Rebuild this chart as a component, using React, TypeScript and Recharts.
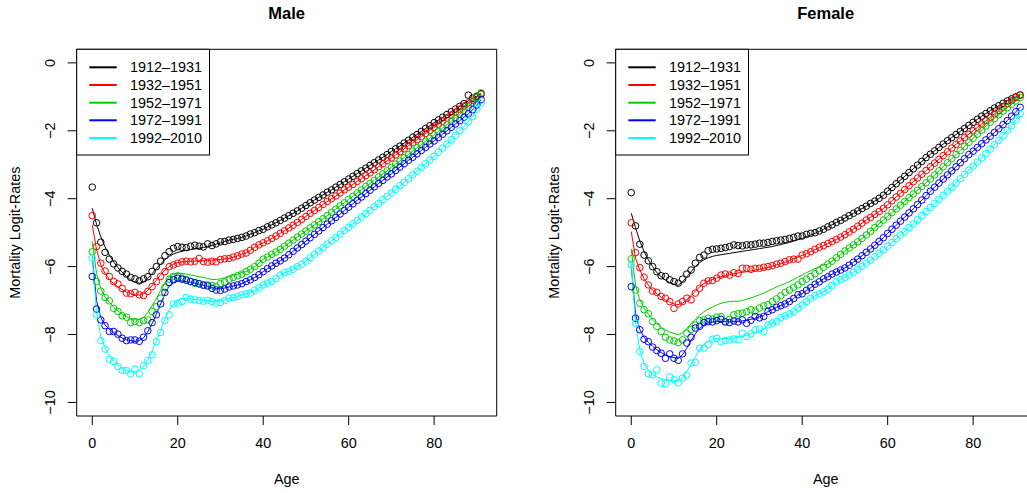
import { ComposedChart, Line, XAxis, YAxis, ReferenceArea } from "recharts";

const FONT = '"Liberation Sans", Arial, Helvetica, sans-serif';

const AGES = [
  0, 1, 2, 3, 4, 5, 6, 7, 8, 9, 10, 11, 12, 13, 14, 15, 16, 17, 18, 19, 20, 21, 22, 23,
  24, 25, 26, 27, 28, 29, 30, 31, 32, 33, 34, 35, 36, 37, 38, 39, 40, 41, 42, 43, 44, 45,
  46, 47, 48, 49, 50, 51, 52, 53, 54, 55, 56, 57, 58, 59, 60, 61, 62, 63, 64, 65, 66, 67,
  68, 69, 70, 71, 72, 73, 74, 75, 76, 77, 78, 79, 80, 81, 82, 83, 84, 85, 86, 87, 88, 89,
  90, 91,
];

const PERIODS = ["1912\u20131931", "1932\u20131951", "1952\u20131971", "1972\u20131991", "1992\u20132010"];
const COLORS = ["#000000", "#FF0000", "#00CD00", "#0000FF", "#00FFFF"];

const X_TICKS = [0, 20, 40, 60, 80];
const Y_TICKS = [-10, -8, -6, -4, -2, 0];

// ---- Male, observed logit rates (circles) ----
const mBlackObs = [
  -3.66, -4.71, -5.28, -5.58, -5.78, -5.92, -6.04, -6.14, -6.22, -6.32,
  -6.36, -6.42, -6.36, -6.3, -6.14, -6.0, -5.84, -5.68, -5.56, -5.46,
  -5.41, -5.43, -5.44, -5.4, -5.37, -5.4, -5.42, -5.33, -5.38, -5.33,
  -5.27, -5.26, -5.22, -5.2, -5.17, -5.14, -5.1, -5.04, -5.0, -4.94,
  -4.9, -4.83, -4.77, -4.71, -4.64, -4.57, -4.5, -4.43, -4.36, -4.28,
  -4.2, -4.12, -4.04, -3.96, -3.89, -3.81, -3.74, -3.66, -3.58, -3.5,
  -3.42, -3.34, -3.26, -3.18, -3.1, -3.02, -2.94, -2.86, -2.78, -2.7,
  -2.61, -2.53, -2.45, -2.36, -2.28, -2.19, -2.11, -2.02, -1.93, -1.85,
  -1.76, -1.68, -1.6, -1.52, -1.44, -1.36, -1.28, -1.2, -0.95, -1.04,
  -0.98, -0.91,
];
const mRedObs = [
  -4.5, -5.41, -5.9, -6.13, -6.29, -6.44, -6.51, -6.64, -6.78, -6.8,
  -6.76, -6.83, -6.85, -6.73, -6.59, -6.44, -6.29, -6.15, -6.0, -5.95,
  -5.9, -5.86, -5.84, -5.86, -5.84, -5.76, -5.85, -5.87, -5.84, -5.86,
  -5.79, -5.77, -5.76, -5.72, -5.68, -5.63, -5.6, -5.52, -5.43, -5.36,
  -5.3, -5.24, -5.17, -5.1, -5.02, -4.94, -4.86, -4.78, -4.7, -4.61,
  -4.52, -4.43, -4.35, -4.26, -4.17, -4.08, -4.0, -3.92, -3.83, -3.74,
  -3.66, -3.58, -3.49, -3.41, -3.32, -3.24, -3.15, -3.06, -2.97, -2.88,
  -2.8, -2.71, -2.62, -2.53, -2.44, -2.35, -2.26, -2.17, -2.08, -1.99,
  -1.9, -1.81, -1.72, -1.63, -1.54, -1.45, -1.36, -1.27, -1.18, -1.1,
  -1.01, -0.92,
];
const mGreenObs = [
  -5.56, -6.44, -6.72, -6.91, -7.01, -7.23, -7.32, -7.45, -7.49, -7.65,
  -7.62, -7.65, -7.59, -7.57, -7.32, -7.18, -6.93, -6.61, -6.37, -6.29,
  -6.27, -6.34, -6.39, -6.44, -6.49, -6.5, -6.53, -6.54, -6.56, -6.59,
  -6.5, -6.45, -6.37, -6.32, -6.27, -6.22, -6.15, -6.08, -6.0, -5.9,
  -5.78, -5.72, -5.64, -5.57, -5.49, -5.4, -5.31, -5.22, -5.13, -5.04,
  -4.95, -4.86, -4.77, -4.68, -4.59, -4.5, -4.4, -4.31, -4.21, -4.12,
  -4.02, -3.93, -3.83, -3.74, -3.64, -3.55, -3.46, -3.36, -3.27, -3.18,
  -3.08, -2.98, -2.89, -2.79, -2.7, -2.6, -2.5, -2.41, -2.31, -2.22,
  -2.12, -2.02, -1.92, -1.82, -1.72, -1.62, -1.51, -1.4, -1.3, -1.16,
  -1.02, -0.88,
];
const mBlueObs = [
  -6.29, -7.25, -7.57, -7.74, -7.91, -7.91, -7.99, -8.11, -8.18, -8.16,
  -8.16, -8.2, -8.08, -7.89, -7.65, -7.42, -7.1, -6.76, -6.47, -6.39,
  -6.34, -6.37, -6.4, -6.44, -6.47, -6.51, -6.55, -6.57, -6.64, -6.69,
  -6.7, -6.66, -6.6, -6.57, -6.54, -6.5, -6.44, -6.39, -6.32, -6.24,
  -6.15, -6.06, -5.98, -5.9, -5.83, -5.75, -5.65, -5.55, -5.45, -5.35,
  -5.25, -5.15, -5.05, -4.95, -4.85, -4.75, -4.65, -4.55, -4.45, -4.35,
  -4.25, -4.15, -4.05, -3.95, -3.85, -3.75, -3.65, -3.55, -3.46, -3.36,
  -3.27, -3.17, -3.07, -2.97, -2.87, -2.78, -2.68, -2.58, -2.49, -2.39,
  -2.3, -2.2, -2.1, -2.0, -1.9, -1.8, -1.7, -1.6, -1.5, -1.38,
  -1.24, -1.08,
];
const mCyanObs = [
  -5.75, -7.42, -8.18, -8.43, -8.73, -8.79, -8.94, -9.06, -9.06, -9.16,
  -9.02, -9.16, -8.92, -8.76, -8.6, -8.21, -7.94, -7.59, -7.42, -7.1,
  -7.08, -7.03, -6.91, -6.96, -6.98, -7.0, -7.02, -6.99, -7.03, -7.08,
  -7.06, -7.0, -6.93, -6.92, -6.88, -6.83, -6.8, -6.78, -6.7, -6.62,
  -6.54, -6.49, -6.44, -6.35, -6.25, -6.18, -6.14, -6.08, -6.0, -5.93,
  -5.84, -5.74, -5.64, -5.54, -5.44, -5.34, -5.24, -5.14, -5.04, -4.94,
  -4.84, -4.74, -4.64, -4.54, -4.44, -4.34, -4.24, -4.14, -4.03, -3.93,
  -3.83, -3.73, -3.62, -3.52, -3.41, -3.3, -3.19, -3.08, -2.97, -2.86,
  -2.75, -2.63, -2.51, -2.39, -2.26, -2.13, -2.0, -1.87, -1.73, -1.58,
  -1.36, -1.18,
];

// ---- Male, fitted curves (lines): young ages read separately, older ages sit on the circles ----
const mBlackFitHead = [
  -4.28, -4.75, -5.12, -5.42, -5.66, -5.86, -6.03, -6.17, -6.29, -6.39,
  -6.46, -6.49, -6.45, -6.35, -6.21, -6.06, -5.92, -5.8, -5.7, -5.63,
  -5.58, -5.55, -5.52, -5.5, -5.48, -5.46, -5.44, -5.41, -5.38, -5.34,
  -5.3,
];
const mRedFitHead = [
  -4.77, -5.5, -5.95, -6.2, -6.38, -6.5, -6.6, -6.68, -6.75, -6.8,
  -6.83, -6.84, -6.8, -6.7, -6.56, -6.4, -6.24, -6.1, -6.0, -5.93,
  -5.88, -5.86, -5.85, -5.84, -5.84, -5.83, -5.83, -5.82, -5.81, -5.8,
  -5.79,
];
const mGreenFitHead = [
  -5.26, -6.2, -6.65, -6.9, -7.05, -7.2, -7.3, -7.4, -7.48, -7.53,
  -7.55, -7.55, -7.5, -7.35, -7.15, -6.95, -6.7, -6.48, -6.3, -6.22,
  -6.2, -6.2, -6.22, -6.25, -6.27, -6.3, -6.32, -6.35, -6.38, -6.38,
  -6.36, -6.33, -6.3, -6.26, -6.22, -6.17,
];
const mBlueFitHead = [
  -5.7, -7.0, -7.5, -7.72, -7.85, -7.95, -8.03, -8.1, -8.15, -8.18,
  -8.2, -8.18, -8.1, -7.92, -7.68, -7.4, -7.1, -6.8, -6.57, -6.47,
  -6.42, -6.42, -6.44, -6.46, -6.49, -6.52, -6.55, -6.58, -6.62, -6.64,
  -6.65, -6.63,
];
const mCyanFitHead = [
  -5.7, -7.35, -8.05, -8.4, -8.62, -8.78, -8.9, -9.0, -9.06, -9.1,
  -9.1, -9.05, -8.95, -8.75, -8.5, -8.2, -7.88, -7.55, -7.28, -7.1,
  -7.0, -6.95, -6.94, -6.95, -6.97, -6.98, -7.0, -7.01, -7.02, -7.02,
  -7.0, -6.98,
];

// ---- Female, observed logit rates (circles) ----
const fBlackObs = [
  -3.82, -4.8, -5.34, -5.66, -5.83, -6.0, -6.15, -6.27, -6.29, -6.39,
  -6.44, -6.49, -6.37, -6.22, -6.1, -5.9, -5.73, -5.66, -5.53, -5.49,
  -5.48, -5.46, -5.44, -5.41, -5.36, -5.38, -5.39, -5.36, -5.36, -5.34,
  -5.31, -5.31, -5.29, -5.26, -5.24, -5.22, -5.2, -5.17, -5.14, -5.1,
  -5.1, -5.05, -5.02, -5.0, -4.95, -4.9, -4.83, -4.77, -4.7, -4.64,
  -4.57, -4.5, -4.43, -4.36, -4.29, -4.22, -4.14, -4.07, -3.99, -3.9,
  -3.78, -3.67, -3.56, -3.45, -3.34, -3.23, -3.12, -3.01, -2.9, -2.79,
  -2.69, -2.59, -2.49, -2.39, -2.29, -2.2, -2.11, -2.02, -1.93, -1.84,
  -1.75, -1.66, -1.57, -1.49, -1.41, -1.33, -1.26, -1.19, -1.12, -1.06,
  -1.0, -0.95,
];
const fRedObs = [
  -4.71, -5.59, -6.03, -6.31, -6.54, -6.72, -6.76, -6.88, -6.93, -7.03,
  -7.23, -7.1, -7.03, -6.93, -6.98, -6.78, -6.64, -6.49, -6.42, -6.41,
  -6.34, -6.25, -6.22, -6.25, -6.18, -6.2, -6.05, -6.05, -6.08, -6.05,
  -6.05, -6.02, -6.0, -5.97, -5.93, -5.9, -5.85, -5.8, -5.78, -5.78,
  -5.66, -5.62, -5.56, -5.49, -5.43, -5.38, -5.32, -5.26, -5.2, -5.13,
  -5.06, -4.98, -4.9, -4.81, -4.72, -4.63, -4.55, -4.46, -4.38, -4.29,
  -4.18, -4.06, -3.95, -3.84, -3.73, -3.62, -3.5, -3.39, -3.28, -3.17,
  -3.06, -2.95, -2.84, -2.73, -2.62, -2.51, -2.4, -2.3, -2.2, -2.1,
  -2.0, -1.9, -1.8, -1.7, -1.6, -1.5, -1.4, -1.3, -1.2, -1.11,
  -1.02, -0.94,
];
const fGreenObs = [
  -5.77, -6.69, -7.08, -7.27, -7.39, -7.62, -7.76, -7.91, -8.08, -8.16,
  -8.19, -8.24, -8.16, -7.96, -7.85, -7.72, -7.59, -7.57, -7.52, -7.55,
  -7.49, -7.47, -7.62, -7.55, -7.42, -7.39, -7.37, -7.33, -7.27, -7.31,
  -7.22, -7.16, -7.12, -7.03, -6.95, -6.86, -6.76, -6.69, -6.61, -6.54,
  -6.44, -6.37, -6.29, -6.21, -6.12, -6.02, -5.93, -5.84, -5.74, -5.64,
  -5.54, -5.45, -5.36, -5.27, -5.17, -5.07, -4.96, -4.85, -4.74, -4.63,
  -4.52, -4.41, -4.3, -4.19, -4.08, -3.97, -3.86, -3.75, -3.64, -3.53,
  -3.42, -3.3, -3.18, -3.06, -2.94, -2.82, -2.7, -2.58, -2.46, -2.34,
  -2.22, -2.1, -1.98, -1.86, -1.75, -1.64, -1.53, -1.42, -1.32, -1.22,
  -1.12, -1.02,
];
const fBlueObs = [
  -6.59, -7.52, -7.86, -8.14, -8.21, -8.37, -8.47, -8.55, -8.7, -8.57,
  -8.7, -8.76, -8.57, -8.25, -8.08, -7.81, -7.76, -7.65, -7.62, -7.63,
  -7.59, -7.55, -7.63, -7.65, -7.6, -7.63, -7.57, -7.67, -7.58, -7.47,
  -7.51, -7.47, -7.32, -7.27, -7.2, -7.15, -7.1, -7.03, -6.94, -6.83,
  -6.8, -6.7, -6.62, -6.52, -6.45, -6.36, -6.3, -6.22, -6.16, -6.1,
  -6.04, -5.96, -5.87, -5.78, -5.68, -5.58, -5.48, -5.37, -5.26, -5.15,
  -5.02, -4.9, -4.78, -4.66, -4.54, -4.42, -4.3, -4.17, -4.04, -3.91,
  -3.78, -3.66, -3.54, -3.42, -3.3, -3.18, -3.06, -2.94, -2.82, -2.7,
  -2.6, -2.49, -2.38, -2.27, -2.16, -2.05, -1.94, -1.82, -1.7, -1.57,
  -1.44, -1.31,
];
const fCyanObs = [
  -5.95, -7.67, -8.5, -8.94, -9.16, -9.19, -9.04, -9.43, -9.45, -9.25,
  -9.33, -9.43, -9.28, -9.19, -8.84, -8.82, -8.4, -8.4, -8.3, -8.14,
  -8.11, -8.21, -8.18, -8.16, -8.13, -8.15, -7.96, -8.06, -7.98, -7.86,
  -7.84, -7.91, -7.72, -7.66, -7.62, -7.5, -7.45, -7.39, -7.33, -7.22,
  -7.13, -7.03, -6.93, -6.86, -6.8, -6.74, -6.67, -6.56, -6.44, -6.38,
  -6.32, -6.25, -6.17, -6.08, -5.99, -5.9, -5.81, -5.71, -5.61, -5.51,
  -5.4, -5.29, -5.18, -5.07, -4.96, -4.85, -4.74, -4.62, -4.5, -4.38,
  -4.26, -4.14, -4.02, -3.9, -3.78, -3.66, -3.54, -3.41, -3.28, -3.16,
  -3.04, -2.92, -2.8, -2.67, -2.54, -2.41, -2.28, -2.14, -2.0, -1.85,
  -1.68, -1.5,
];

// ---- Female, fitted curves ----
const fBlackFitHead = [
  -4.43, -4.85, -5.25, -5.55, -5.8, -6.0, -6.18, -6.3, -6.4, -6.47,
  -6.52, -6.55, -6.45, -6.3, -6.15, -6.0, -5.88, -5.8, -5.74, -5.7,
  -5.67, -5.65, -5.63, -5.61, -5.59, -5.57, -5.55, -5.53, -5.51, -5.49,
  -5.47, -5.45, -5.43, -5.41, -5.38, -5.35, -5.32, -5.29, -5.25, -5.21,
  -5.17, -5.12, -5.07, -5.02, -4.96, -4.9,
];
const fRedFitHead = [
  -4.97, -5.75, -6.1, -6.35, -6.55, -6.7, -6.8, -6.9, -6.98, -7.05,
  -7.1, -7.12, -7.08, -6.98, -6.85, -6.72, -6.6, -6.5, -6.43, -6.38,
  -6.33, -6.3, -6.27, -6.24, -6.21, -6.19, -6.17, -6.15, -6.13, -6.1,
  -6.08, -6.05, -6.02, -5.99, -5.95, -5.91, -5.87, -5.82, -5.77, -5.72,
  -5.67, -5.62, -5.56, -5.5, -5.44, -5.38,
];
const fGreenFitHead = [
  -5.48, -6.55, -6.98, -7.22, -7.4, -7.55, -7.68, -7.78, -7.87, -7.93,
  -7.97, -8.0, -7.95, -7.82, -7.68, -7.55, -7.43, -7.33, -7.25, -7.19,
  -7.13, -7.08, -7.05, -7.03, -7.02, -7.02, -7.0, -6.96, -6.92, -6.88,
  -6.83, -6.78, -6.72, -6.66, -6.6, -6.55, -6.5, -6.44, -6.38, -6.31,
  -6.25, -6.18, -6.12, -6.06, -6.0, -5.95,
];
const fBlueFitHead = [
  -5.98, -7.4, -7.85, -8.08, -8.23, -8.35, -8.45, -8.53, -8.6, -8.65,
  -8.68, -8.7, -8.6, -8.4, -8.18, -7.98, -7.82, -7.72, -7.66, -7.63,
  -7.62, -7.62, -7.62, -7.62, -7.62, -7.61, -7.6, -7.58, -7.55, -7.52,
  -7.48, -7.44,
];
const fCyanFitHead = [
  -5.9, -7.65, -8.45, -8.85, -9.05, -9.17, -9.25, -9.3, -9.33, -9.35,
  -9.36, -9.35, -9.27, -9.1, -8.88, -8.65, -8.45, -8.3, -8.2, -8.15,
  -8.12, -8.12, -8.12, -8.11, -8.1, -8.08, -8.05, -8.02, -7.98, -7.94,
  -7.9, -7.86,
];

// fitted line = its own young-age readings, then the observed points it runs through
function joinFit(head: number[], obs: number[]) {
  return head.concat(obs.slice(head.length));
}

const maleObs = [mBlackObs, mRedObs, mGreenObs, mBlueObs, mCyanObs];
const maleFit = [
  // black line passes under the stray circle at age 88
  [...mBlackFitHead, ...mBlackObs.slice(31, 88), -1.12, ...mBlackObs.slice(89)],
  joinFit(mRedFitHead, mRedObs),
  joinFit(mGreenFitHead, mGreenObs),
  joinFit(mBlueFitHead, mBlueObs),
  joinFit(mCyanFitHead, mCyanObs),
];
const femaleObs = [fBlackObs, fRedObs, fGreenObs, fBlueObs, fCyanObs];
const femaleFit = [
  joinFit(fBlackFitHead, fBlackObs),
  joinFit(fRedFitHead, fRedObs),
  joinFit(fGreenFitHead, fGreenObs),
  joinFit(fBlueFitHead, fBlueObs),
  joinFit(fCyanFitHead, fCyanObs),
];

const W = 520;
const H = 493;
const PLOT_L = 76.7;
const PLOT_T = 49.3;
const PLOT_R = 496.7;
const PLOT_B = 416;
const FS = 14.4;

function buildRows(obs: number[][], fit: number[][]) {
  return AGES.map((age, i) => {
    const row: Record<string, number> = { age };
    obs.forEach((s, k) => {
      row[`obs${k}`] = s[i];
    });
    fit.forEach((s, k) => {
      row[`fit${k}`] = s[i];
    });
    return row;
  });
}

function XTick(props: any) {
  const { x, y, payload } = props;
  return (
    <text x={x} y={y + FS * 0.71} textAnchor="middle" fontSize={FS} fontFamily={FONT} fill="#000">
      {payload.value}
    </text>
  );
}

function YTick(props: any) {
  const { x, y, payload } = props;
  const v = payload.value as number;
  const label = v < 0 ? `\u2212${Math.abs(v)}` : `${v}`;
  return (
    <text
      x={x}
      y={y}
      transform={`rotate(-90, ${x}, ${y})`}
      textAnchor="middle"
      fontSize={FS}
      fontFamily={FONT}
      fill="#000"
    >
      {label}
    </text>
  );
}

function Panel({ title, obs, fit, left }: { title: string; obs: number[][]; fit: number[][]; left: number }) {
  const rows = buildRows(obs, fit);
  const cx = (PLOT_L + PLOT_R) / 2;
  const cy = (PLOT_T + PLOT_B) / 2;
  const rowY = [67.3, 85, 102.7, 120.3, 138];

  return (
    <div style={{ position: "absolute", left, top: 0, width: W, height: H }}>
      <ComposedChart
        width={W}
        height={H}
        data={rows}
        margin={{ top: PLOT_T, right: W - PLOT_R, bottom: 0, left: 0 }}
      >
        <XAxis
          dataKey="age"
          type="number"
          domain={[-3.64, 94.64]}
          ticks={X_TICKS}
          interval={0}
          allowDataOverflow
          height={H - PLOT_B}
          axisLine={false}
          tickSize={9}
          tickMargin={13}
          stroke="#000"
          tick={<XTick />}
        />
        <YAxis
          type="number"
          domain={[-10.4, 0.4]}
          ticks={Y_TICKS}
          interval={0}
          allowDataOverflow
          width={PLOT_L}
          axisLine={false}
          tickSize={9}
          tickMargin={12.5}
          stroke="#000"
          tick={<YTick />}
        />
        {COLORS.map((c, k) => [
          <Line
            key={`obs${k}`}
            dataKey={`obs${k}`}
            type="linear"
            stroke="none"
            strokeWidth={0}
            dot={{ r: 3.3, fill: "none", stroke: c, strokeWidth: 1 }}
            activeDot={false}
            isAnimationActive={false}
          />,
          <Line
            key={`fit${k}`}
            dataKey={`fit${k}`}
            type="linear"
            stroke={c}
            strokeWidth={1}
            dot={false}
            activeDot={false}
            isAnimationActive={false}
          />,
        ])}
        <ReferenceArea
          x1={-3.64}
          x2={94.64}
          y1={-10.4}
          y2={0.4}
          fill="none"
          fillOpacity={0}
          stroke="#000"
          strokeWidth={1}
          strokeOpacity={1}
          ifOverflow="visible"
        />
      </ComposedChart>
      <svg
        width={W}
        height={H}
        style={{ position: "absolute", left: 0, top: 0, pointerEvents: "none" }}
      >
        <text x={cx} y={19} textAnchor="middle" fontSize={16.5} fontWeight="bold" fontFamily={FONT} fill="#000">
          {title}
        </text>
        <text x={cx} y={484.3} textAnchor="middle" fontSize={FS} fontFamily={FONT} fill="#000">
          Age
        </text>
        <text
          x={20}
          y={cy}
          transform={`rotate(-90, 20, ${cy})`}
          textAnchor="middle"
          fontSize={FS}
          fontFamily={FONT}
          fill="#000"
        >
          Mortality Logit-Rates
        </text>
        <rect x={PLOT_L} y={PLOT_T} width={209.5 - PLOT_L} height={155 - PLOT_T} fill="#fff" stroke="#000" strokeWidth={1} />
        {PERIODS.map((p, k) => (
          <g key={p}>
            <line x1={89.3} x2={116.7} y1={rowY[k]} y2={rowY[k]} stroke={COLORS[k]} strokeWidth={2} />
            <text x={130} y={rowY[k] + 5.1} fontSize={FS} fontFamily={FONT} fill="#000">
              {p}
            </text>
          </g>
        ))}
      </svg>
    </div>
  );
}

export default function App() {
  return (
    <div
      style={{
        position: "absolute",
        left: 0,
        top: 0,
        width: 1027,
        height: 493,
        overflow: "hidden",
        background: "#fff",
      }}
    >
      <Panel title="Male" obs={maleObs} fit={maleFit} left={0} />
      <Panel title="Female" obs={femaleObs} fit={femaleFit} left={539} />
    </div>
  );
}
